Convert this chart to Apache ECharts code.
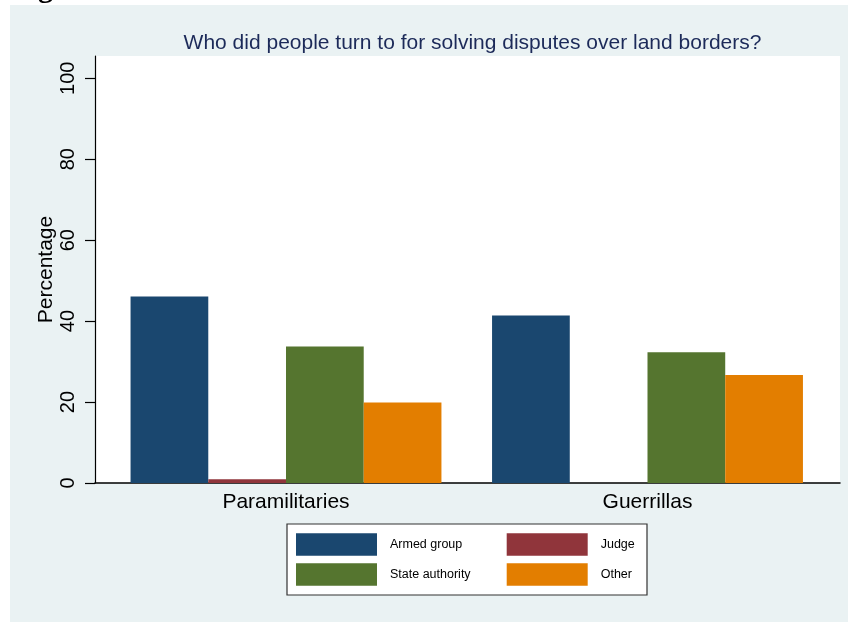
<!DOCTYPE html>
<html>
<head>
<meta charset="utf-8">
<script src="https://cdn.jsdelivr.net/npm/echarts@6/dist/echarts.min.js"></script>
<style>
html,body{margin:0;padding:0;background:#fff;}
#chart{width:848px;height:622px;}
</style>
</head>
<body>
<div id="chart"></div>
<script>
var categories = ['Paramilitaries', 'Guerrillas'];
var seriesNames = ['Armed group', 'Judge', 'State authority', 'Other'];
var armedGroup = [46.1, 41.4];
var judge = [0.9, 0];
var stateAuthority = [33.7, 32.3];
var other = [19.9, 26.7];
var yTicks = [0, 20, 40, 60, 80, 100];
var titleText = 'Who did people turn to for solving disputes over land borders?';
var yName = 'Percentage';

var colors = ['#1a476f', '#90353b', '#55752f', '#e37e00'];
var FONT = 'Liberation Sans, Arial, Helvetica, sans-serif';
var YMAX = 105.5;

var chart = echarts.init(document.getElementById('chart'), null, {renderer: 'canvas'});
var values = [armedGroup, judge, stateAuthority, other];

var option = {
  backgroundColor: '#ffffff',
  animation: false,
  color: colors,
  graphic: [
    {type: 'rect', z: -10, shape: {x: 10, y: 5, width: 838, height: 617}, style: {fill: '#eaf2f3'}},
    {type: 'text', z: -5, left: 38, top: -26, style: {text: 'g', font: 'bold 30px Liberation Serif, serif', fill: '#000'}},
    {type: 'rect', z: 5, shape: {x: 287, y: 524, width: 360, height: 71},
     style: {fill: '#ffffff', stroke: '#333333', lineWidth: 1.2}}
  ],
  title: {
    text: titleText,
    left: 467.5,
    top: 28,
    textAlign: 'center',
    textStyle: {fontFamily: FONT, fontSize: 21, fontWeight: 'normal', color: '#1c2a59'}
  },
  legend: [
    {
      data: [seriesNames[0], seriesNames[2]],
      orient: 'vertical',
      left: 296, top: 533.3,
      padding: 0,
      itemGap: 7.6,
      itemWidth: 81, itemHeight: 22.4,
      icon: 'rect',
      z: 10,
      textStyle: {fontFamily: FONT, fontSize: 12.5, color: '#000', padding: [0, 0, 0, 8]}
    },
    {
      data: [seriesNames[1], seriesNames[3]],
      orient: 'vertical',
      left: 506.7, top: 533.3,
      padding: 0,
      itemGap: 7.6,
      itemWidth: 81, itemHeight: 22.4,
      icon: 'rect',
      z: 10,
      textStyle: {fontFamily: FONT, fontSize: 12.5, color: '#000', padding: [0, 0, 0, 8]}
    }
  ],
  grid: [
    {left: 95, top: 56, width: 745, height: 427, show: true, backgroundColor: '#ffffff', borderWidth: 0, containLabel: false},
    {left: 105.25, top: 56, width: 723, height: 427, show: false, containLabel: false}
  ],
  xAxis: [
    {
      gridIndex: 0, type: 'value', min: 0, max: 1,
      axisLine: {show: true, onZero: false, lineStyle: {color: '#000', width: 1.5}},
      axisTick: {show: false}, axisLabel: {show: false}, splitLine: {show: false}
    },
    {
      gridIndex: 1, type: 'category', data: categories,
      axisLine: {show: false}, axisTick: {show: false}, splitLine: {show: false},
      axisLabel: {fontFamily: FONT, fontSize: 21, color: '#000', margin: 9}
    }
  ],
  yAxis: [
    {
      gridIndex: 0, type: 'value', min: 0, max: YMAX,
      name: yName, nameLocation: 'middle', nameGap: 38, nameRotate: 90,
      nameMoveOverlap: false,
      nameTextStyle: {fontFamily: FONT, fontSize: 21, color: '#000'},
      axisLine: {show: true, lineStyle: {color: '#000', width: 1.2}},
      axisTick: {show: true, length: 10, customValues: yTicks, lineStyle: {color: '#000', width: 1.2}},
      axisLabel: {customValues: yTicks, rotate: 90, fontFamily: FONT, fontSize: 20, color: '#000', margin: 17},
      splitLine: {show: false}
    },
    {
      gridIndex: 1, type: 'value', min: 0, max: YMAX, show: false, splitLine: {show: false}
    }
  ],
  series: seriesNames.map(function (name, i) {
    return {
      name: name,
      type: 'bar',
      xAxisIndex: 1, yAxisIndex: 1,
      data: values[i],
      barGap: '0%',
      barCategoryGap: '14%',
      itemStyle: {color: colors[i]}
    };
  })
};
chart.setOption(option);
</script>
</body>
</html>
